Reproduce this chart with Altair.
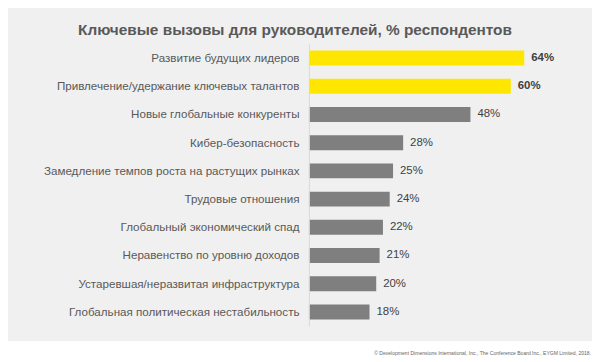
import altair as alt
import pandas as pd

categories = [
    "Развитие будущих лидеров",
    "Привлечение/удержание ключевых талантов",
    "Новые глобальные конкуренты",
    "Кибер-безопасность",
    "Замедление темпов роста на растущих рынках",
    "Трудовые отношения",
    "Глобальный экономический спад",
    "Неравенство по уровню доходов",
    "Устаревшая/неразвитая инфраструктура",
    "Глобальная политическая нестабильность",
]
values = [64, 60, 48, 28, 25, 24, 22, 21, 20, 18]
highlight = [True, True, False, False, False, False, False, False, False, False]
labels = [f"{v}%" for v in values]

title_text = "Ключевые вызовы для руководителей, % респондентов"
footer_text = "© Development Dimensions International, Inc., The Conference Board Inc., EYGM Limited, 2018."

FONT = "Liberation Sans"

df = pd.DataFrame({"cat": categories, "value": values, "hl": highlight, "label": labels})
one = pd.DataFrame({"a": [0]})

y_enc = alt.Y(
    "cat:N",
    sort=categories,
    scale=alt.Scale(paddingInner=0.47, paddingOuter=0.235),
    axis=alt.Axis(
        title=None, ticks=False, domainColor="#d9d9d9", domainWidth=1,
        labelFontSize=11.7, labelColor="#595959", labelPadding=10,
        labelLimit=400, labelFont=FONT, zindex=1, grid=False,
    ),
)
x_enc = alt.X("value:Q", scale=alt.Scale(domain=[0, 80]), axis=None)

bg = alt.Chart(one).mark_rect(color="#f0f0f0").encode(
    x=alt.value(-311), x2=alt.value(285), y=alt.value(-43), y2=alt.value(299)
)

base = alt.Chart(df)

bars = base.mark_bar().encode(
    x=x_enc,
    y=y_enc,
    color=alt.Color(
        "hl:N",
        scale=alt.Scale(domain=[True, False], range=["#FFE600", "#7f7f7f"]),
        legend=None,
    ),
)

txt_bold = base.transform_filter(alt.datum.hl).mark_text(
    align="left", baseline="middle", dx=7, fontSize=11.5, font=FONT,
    fontWeight="bold", color="#404040",
).encode(x=x_enc, y=y_enc, text="label:N")

txt_reg = base.transform_filter(~alt.datum.hl).mark_text(
    align="left", baseline="middle", dx=7, fontSize=11.5, font=FONT,
    color="#404040",
).encode(x=x_enc, y=y_enc, text="label:N")

title = alt.Chart(one).mark_text(
    text=title_text, fontSize=15.5, fontWeight="bold", font=FONT,
    color="#595959", align="center", baseline="alphabetic",
).encode(x=alt.value(-14), y=alt.value(-9))

footer = alt.Chart(one).mark_text(
    text=footer_text, fontSize=5.1, font=FONT, color="#666666",
    align="right", baseline="middle",
).encode(x=alt.value(284), y=alt.value(311))

chart = alt.layer(bg, bars, txt_bold, txt_reg, title, footer).properties(
    width=271,
    height=284,
    padding={"left": 303, "top": 35, "right": 14, "bottom": 35},
    autosize=alt.AutoSizeParams(type="none"),
    background="white",
).configure_view(stroke=None)

chart.save("out.html", embed_options={"renderer": "svg", "actions": False})
